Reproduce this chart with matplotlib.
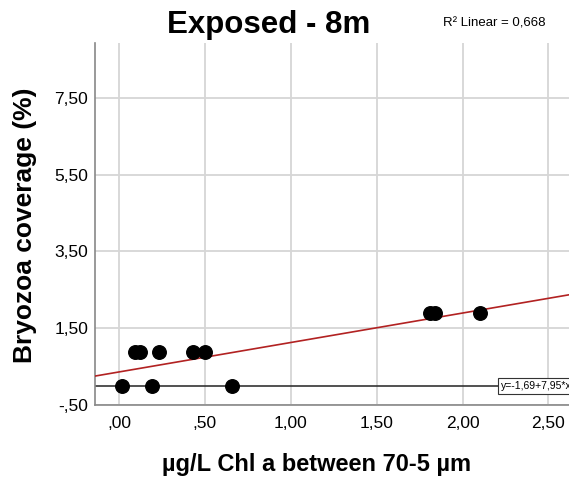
import matplotlib
matplotlib.use('Agg')
import matplotlib.pyplot as plt
import numpy as np

plt.rcParams['font.family'] = ['Liberation Sans', 'DejaVu Sans']

# data
chl = [0.02, 0.19, 0.66, 0.09, 0.12, 0.23, 0.43, 0.50, 1.81, 1.84, 2.10]
bryo = [0.0, 0.0, 0.0, 0.88, 0.88, 0.88, 0.88, 0.88, 1.90, 1.90, 1.90]

xticks = [0, 0.5, 1.0, 1.5, 2.0, 2.5]
xlabels = [',00', ',50', '1,00', '1,50', '2,00', '2,50']
yticks = [-0.5, 1.5, 3.5, 5.5, 7.5]
ylabels = ['-,50', '1,50', '3,50', '5,50', '7,50']

fig = plt.figure(figsize=(5.69, 4.80), dpi=100)
ax = fig.add_axes([95/569, 1-405/480, 1-95/569, (405-43)/480])

ax.set_xlim(-0.14, 2.62)
ax.set_ylim(-0.5, 8.93)
ax.set_xticks(xticks)
ax.set_xticklabels(xlabels, fontsize=12.5)
ax.set_yticks(yticks)
ax.set_yticklabels(ylabels, fontsize=12.5)
ax.tick_params(axis='x', length=0, pad=8)
ax.tick_params(axis='y', length=0, pad=5)
ax.grid(True, color='#d6d6d6', linewidth=1.3)
ax.set_axisbelow(True)
for s in ['top', 'right']:
    ax.spines[s].set_visible(False)
for s in ['left', 'bottom']:
    ax.spines[s].set_color('#888888')
    ax.spines[s].set_linewidth(1.2)

# reference line at zero
ax.axhline(0, color='#333333', linewidth=1.2, zorder=2)
ax.text(2.225, 0, 'y=-1,69+7,95*x', fontsize=7.5, va='center', ha='left',
        bbox=dict(boxstyle='square,pad=0.3', fc='white', ec='#333333', lw=0.8),
        zorder=4, clip_on=True)

# linear fit
b, a = np.polyfit(chl, bryo, 1)
xx = np.array([-0.14, 2.62])
ax.plot(xx, a + b*xx, color='#b22222', linewidth=1.2, zorder=3)

ax.scatter(chl, bryo, s=95, color='black', zorder=5)

fig.text(269/569, 1-25/480, 'Exposed - 8m', fontsize=22.5, fontweight='bold',
         ha='center', va='center')
fig.text(443/569, 1-24/480, 'R\u00b2 Linear = 0,668', fontsize=9.5,
         ha='left', va='center')

fig.text(317/569, 1-465/480, '\u00b5g/L Chl a between 70-5 \u00b5m', fontsize=17,
         fontweight='bold', ha='center', va='center')
fig.text(25/569, 1-225/480, 'Bryozoa coverage (%)', fontsize=19,
         fontweight='bold', ha='center', va='center', rotation=90)

fig.savefig('out.png', dpi=100)
